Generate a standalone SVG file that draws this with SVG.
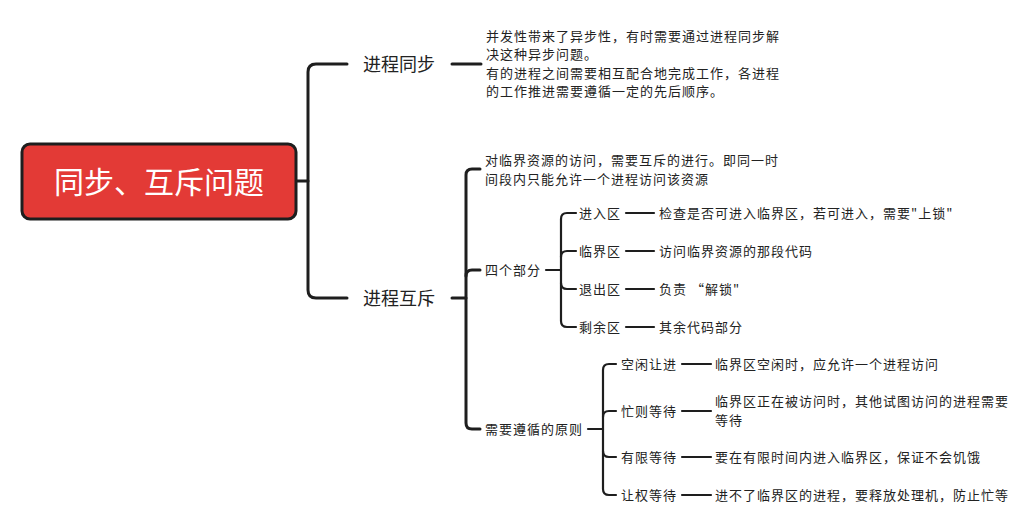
<svg xmlns="http://www.w3.org/2000/svg" width="1036" height="518" viewBox="0 0 1036 518">
<style>
text{font-family:"Noto Sans CJK SC","Noto Sans",sans-serif;fill:#222;dominant-baseline:central}
.t{font-size:13px;letter-spacing:1px}
.l1{font-size:18px}
.root{font-size:30px;fill:#fff;text-anchor:middle}
.c{fill:none;stroke:#1e1e1e;stroke-linecap:round;stroke-linejoin:round}
.w3{stroke-width:3}
.w2{stroke-width:2.2}
</style>
<rect width="1036" height="518" fill="#fff"/>
<g id="connectors">
<path class="c w3" d="M296,181 H308"/>
<path class="c w3" d="M347,64 H316 Q308,64 308,72 V290 Q308,298 316,298 H347"/>
<path class="c w3" d="M452,64 H481"/>
<path class="c w3" d="M452,298 H466"/>
<path class="c w3" d="M480,169 H472 Q466,169 466,175 V423 Q466,429 472,429 H480"/>
<path class="c w3" d="M466,276 Q466,270 472,270 H480"/>
<path class="c w2" d="M546,270 H561"/>
<path class="c w2" d="M576,213 H567 Q561,213 561,219 V321 Q561,327 567,327 H576"/>
<path class="c w2" d="M561,257 Q561,251 567,251 H576"/>
<path class="c w2" d="M561,283 Q561,289 567,289 H576"/>
<path class="c w2" d="M626,213 H654"/>
<path class="c w2" d="M626,251 H654"/>
<path class="c w2" d="M626,289 H654"/>
<path class="c w2" d="M626,327 H654"/>
<path class="c w2" d="M588,429 H603"/>
<path class="c w2" d="M616,364 H609 Q603,364 603,370 V489 Q603,495 609,495 H616"/>
<path class="c w2" d="M603,417 Q603,411 609,411 H616"/>
<path class="c w2" d="M603,451 Q603,457 609,457 H616"/>
<path class="c w2" d="M682,364 H711"/>
<path class="c w2" d="M682,411 H711"/>
<path class="c w2" d="M682,457 H711"/>
<path class="c w2" d="M682,495 H711"/>
</g>
<g id="root">
<rect x="22" y="144" width="274" height="75" rx="8" fill="#e33a36" stroke="#1e1e1e" stroke-width="3"/>
<text class="root" x="159" y="179.5">同步、互斥问题</text>
</g>
<g transform="translate(0,-1)">
<g id="sync"><text class="l1" x="363" y="64">进程同步</text></g>
<g id="sync-desc">
<text class="t" x="486" y="36">并发性带来了异步性，有时需要通过进程同步解</text>
<text class="t" x="486" y="54.5">决这种异步问题。</text>
<text class="t" x="486" y="73">有的进程之间需要相互配合地完成工作，各进程</text>
<text class="t" x="486" y="91.5">的工作推进需要遵循一定的先后顺序。</text>
</g>
<g id="mutex"><text class="l1" x="363" y="298">进程互斥</text></g>
<g id="mutex-desc">
<text class="t" x="485" y="160">对临界资源的访问，需要互斥的进行。即同一时</text>
<text class="t" x="485" y="179">间段内只能允许一个进程访问该资源</text>
</g>
<g id="four"><text class="t" x="485" y="270">四个部分</text></g>
<g id="enter"><text class="t" x="579" y="213">进入区</text></g>
<g id="enter-desc"><text class="t" x="659" y="213">检查是否可进入临界区，若可进入，需要"上锁"</text></g>
<g id="critical"><text class="t" x="579" y="251">临界区</text></g>
<g id="critical-desc"><text class="t" x="659" y="251">访问临界资源的那段代码</text></g>
<g id="exit"><text class="t" x="579" y="289">退出区</text></g>
<g id="exit-desc"><text class="t" x="659" y="289">负责 “解锁"</text></g>
<g id="remainder"><text class="t" x="579" y="327">剩余区</text></g>
<g id="remainder-desc"><text class="t" x="659" y="327">其余代码部分</text></g>
<g id="rules"><text class="t" x="485" y="429">需要遵循的原则</text></g>
<g id="r1"><text class="t" x="621" y="364">空闲让进</text></g>
<g id="r1-desc"><text class="t" x="715" y="364">临界区空闲时，应允许一个进程访问</text></g>
<g id="r2"><text class="t" x="621" y="411">忙则等待</text></g>
<g id="r2-desc">
<text class="t" x="715" y="401.5">临界区正在被访问时，其他试图访问的进程需要</text>
<text class="t" x="715" y="420">等待</text>
</g>
<g id="r3"><text class="t" x="621" y="457">有限等待</text></g>
<g id="r3-desc"><text class="t" x="715" y="457">要在有限时间内进入临界区，保证不会饥饿</text></g>
<g id="r4"><text class="t" x="621" y="495">让权等待</text></g>
<g id="r4-desc"><text class="t" x="715" y="495">进不了临界区的进程，要释放处理机，防止忙等</text></g>
</g>
</svg>
